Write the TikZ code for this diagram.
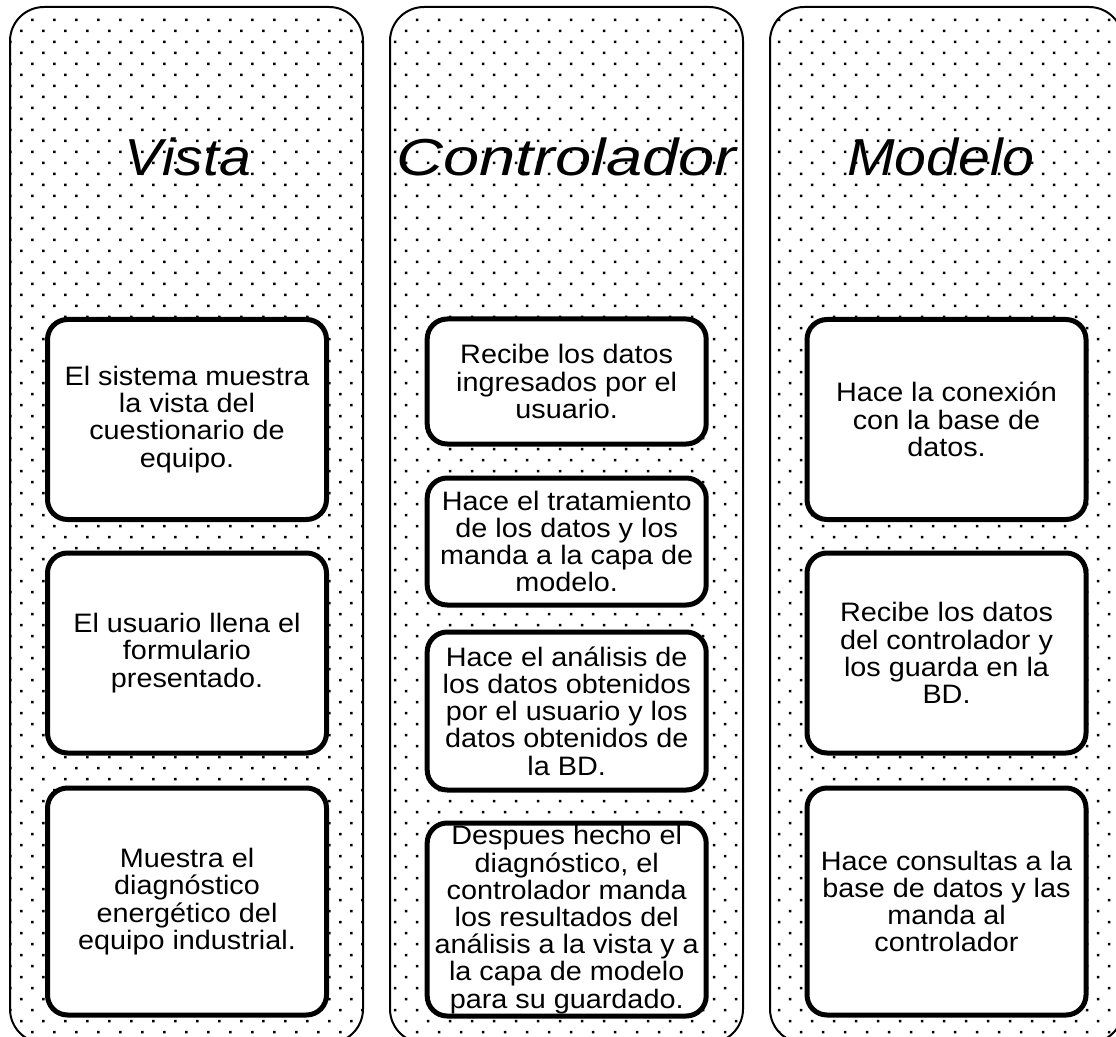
\documentclass[tikz,border=0pt]{standalone}
\usepackage{fontspec}
\setmainfont{Liberation Sans}
\newfontfamily\boxfont[FakeStretch=1.08]{Liberation Sans}
\newfontfamily\titlefont[FakeStretch=1.1]{Liberation Sans}
\newfontfamily\widetitlefont[FakeStretch=1.25]{Liberation Sans}
\tikzset{
  colshape/.style={draw=black, line width=1.5pt, rounded corners=25.5pt},
  cardbox/.style={draw=black, line width=3.75pt, rounded corners=15pt, fill=white,
    minimum width=209.25pt, inner sep=0pt, align=center,
    font=\boxfont\fontsize{20}{20.4}\selectfont},
  coltitle/.style={anchor=base, inner sep=0pt, font=\titlefont\itshape\fontsize{39}{40}\selectfont}
}
\begin{document}
\begin{tikzpicture}[x=0.75pt, y=-0.75pt]
\useasboundingbox (0,0) rectangle (1116,1037);
% dotted columns
\foreach \L/\ph in {10/10.3, 390/395, 770/779}{
  \begin{scope}
    \clip[rounded corners=25.5pt] (\L,7) rectangle ({\L+353},1043);
    \fill \foreach \i in {0,...,93}{ \foreach \k in {0,...,16}{
      ({\ph-1.25+11*mod(\i,2)+22*\k},{18.75+11*\i}) rectangle ++(2.5,2.5) } };
  \end{scope}
  \draw[colshape] (\L,7) rectangle ({\L+353},1043);
}
% titles
\node[coltitle] (tv) at (188,176) {Vista};
\node[coltitle, font=\widetitlefont\itshape\fontsize{39}{40}\selectfont] (tc) at (566.5,176) {Controlador};
\node[coltitle] (tm) at (941,176) {Modelo};
% column 1
\node[cardbox, minimum height=150pt] (v1) at (187,419.5) {El sistema muestra\\la vista del\\cuestionario de\\equipo.};
\node[cardbox, minimum height=150pt] (v2) at (187,653) {El usuario llena el\\formulario\\presentado.};
\node[cardbox, minimum height=170.25pt] (v3) at (187,901.5) {Muestra el\\diagnóstico\\energético del\\equipo industrial.};
% column 2
\node[cardbox, minimum height=93.75pt] (c1) at (566.7,381.5) {Recibe los datos\\ingresados por el\\usuario.};
\node[cardbox, minimum height=95.25pt] (c2) at (566.7,541.5) {Hace el tratamiento\\de los datos y los\\manda a la capa de\\modelo.};
\node[cardbox, minimum height=118.5pt] (c3) at (566.7,711) {Hace el análisis de\\los datos obtenidos\\por el usuario y los\\datos obtenidos de\\la BD.};
\node[cardbox, minimum height=144.75pt] (c4) at (566.7,919.5) {Despues hecho el\\diagnóstico, el\\controlador manda\\los resultados del\\análisis a la vista y a\\la capa de modelo\\para su guardado.};
% column 3
\node[cardbox, minimum height=150pt] (m1) at (946.5,419.5) {Hace la conexión\\con la base de\\datos.};
\node[cardbox, minimum height=150pt] (m2) at (946.5,653) {Recibe los datos\\del controlador y\\los guarda en la\\BD.};
\node[cardbox, minimum height=170.25pt] (m3) at (946.5,901.5) {Hace consultas a la\\base de datos y las\\manda al\\controlador};
\end{tikzpicture}
\end{document}
